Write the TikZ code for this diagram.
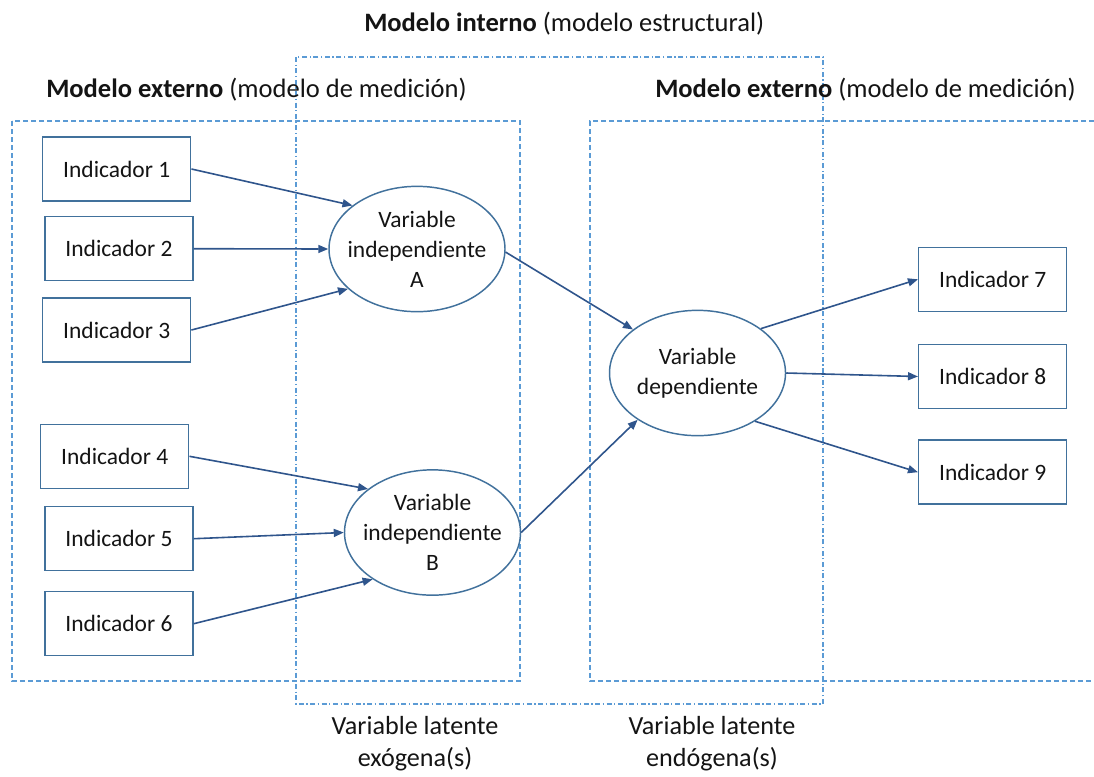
\documentclass[tikz,border=0pt]{standalone}
\usepackage{fontspec}
\setmainfont{Carlito}
\usetikzlibrary{arrows.meta,shapes.geometric}
\definecolor{shapeblue}{RGB}{65,113,156}
\definecolor{linkblue}{RGB}{47,85,140}
\definecolor{frameblue}{RGB}{91,155,213}
\definecolor{inktext}{RGB}{20,20,20}
\begin{document}
\begin{tikzpicture}[x=0.75pt,y=-0.75pt,
  every node/.style={text=inktext},
  indbox/.style={draw=shapeblue,line width=1.1pt,fill=white,
    minimum width=111pt,minimum height=48pt,inner sep=0pt,
    font=\fontsize{17.6}{21.75}\selectfont},
  latent/.style={ellipse,draw=shapeblue,line width=1.1pt,fill=white,
    minimum width=132pt,minimum height=94pt,inner xsep=-6pt,inner ysep=0pt,
    align=center,font=\fontsize{17.6}{22.5}\selectfont},
  link/.style={draw=linkblue,line width=1.2pt,-{Triangle[length=7.5pt,width=6pt]}},
  measframe/.style={draw=frameblue,line width=0.9pt,dash pattern=on 3.75pt off 2.25pt},
  structframe/.style={draw=frameblue,line width=0.9pt,dash pattern=on 3.75pt off 1.9pt on 1pt off 1.9pt},
  titlelabel/.style={font=\fontsize{19.9}{24}\selectfont,inner sep=0pt},
  footlabel/.style={align=center,font=\fontsize{19.6}{24}\selectfont,inner sep=0pt}]

\useasboundingbox (0,0) rectangle (1094,776);

% measurement and structural frames
\draw[measframe] (12,121) rectangle (520,681);
\draw[measframe] (1110,121) -- (590,121) -- (590,681) -- (1110,681);
\draw[structframe] (296,57) rectangle (823,704);

% frame titles
\node[titlelabel,anchor=base west] (tint) at (364,31) {\textbf{Modelo interno} (modelo estructural)};
\node[titlelabel,anchor=base west] (textl) at (46,97) {\textbf{Modelo externo} (modelo de medición)};
\node[titlelabel,anchor=base west] (textr) at (655,97) {\textbf{Modelo externo} (modelo de medición)};

% indicators
\node[indbox] (i1) at (116.7,169) {Indicador 1};
\node[indbox] (i2) at (119,248.7) {Indicador 2};
\node[indbox] (i3) at (116.7,330) {Indicador 3};
\node[indbox] (i4) at (114.7,456.3) {Indicador 4};
\node[indbox] (i5) at (119,538.7) {Indicador 5};
\node[indbox] (i6) at (119,623.7) {Indicador 6};
\node[indbox] (i7) at (992.7,279.3) {Indicador 7};
\node[indbox] (i8) at (992.7,376.5) {Indicador 8};
\node[indbox] (i9) at (992.7,472.2) {Indicador 9};

% latent variables
\node[latent] (va) at (417,249) {Variable\\independiente\\A};
\node[latent] (vb) at (432.5,532.5) {Variable\\independiente\\B};
\node[latent] (vd) at (697.5,373) {Variable\\dependiente};

% outer model, left
\draw[link] (i1.east) -- (va.146.7);
\draw[link] (i2.east) -- (va.180);
\draw[link] (i3.east) -- (va.210.3);
\draw[link] (i4.east) -- (vb.146.7);
\draw[link] (i5.east) -- (vb.180);
\draw[link] (i6.east) -- (vb.218.9);

% inner model
\draw[link] (va.358) -- (vd.146.3);
\draw[link] (vb.0) -- (vd.218.4);

% outer model, right
\draw[link] (vd.35.6) -- (i7.west);
\draw[link] (vd.0) -- (i8.west);
\draw[link] (vd.320) -- (i9.west);

% latent variable types
\node[footlabel] (exo) at (415,744) {Variable latente\\exógena(s)};
\node[footlabel] (endo) at (712,744) {Variable latente\\endógena(s)};

\end{tikzpicture}
\end{document}
